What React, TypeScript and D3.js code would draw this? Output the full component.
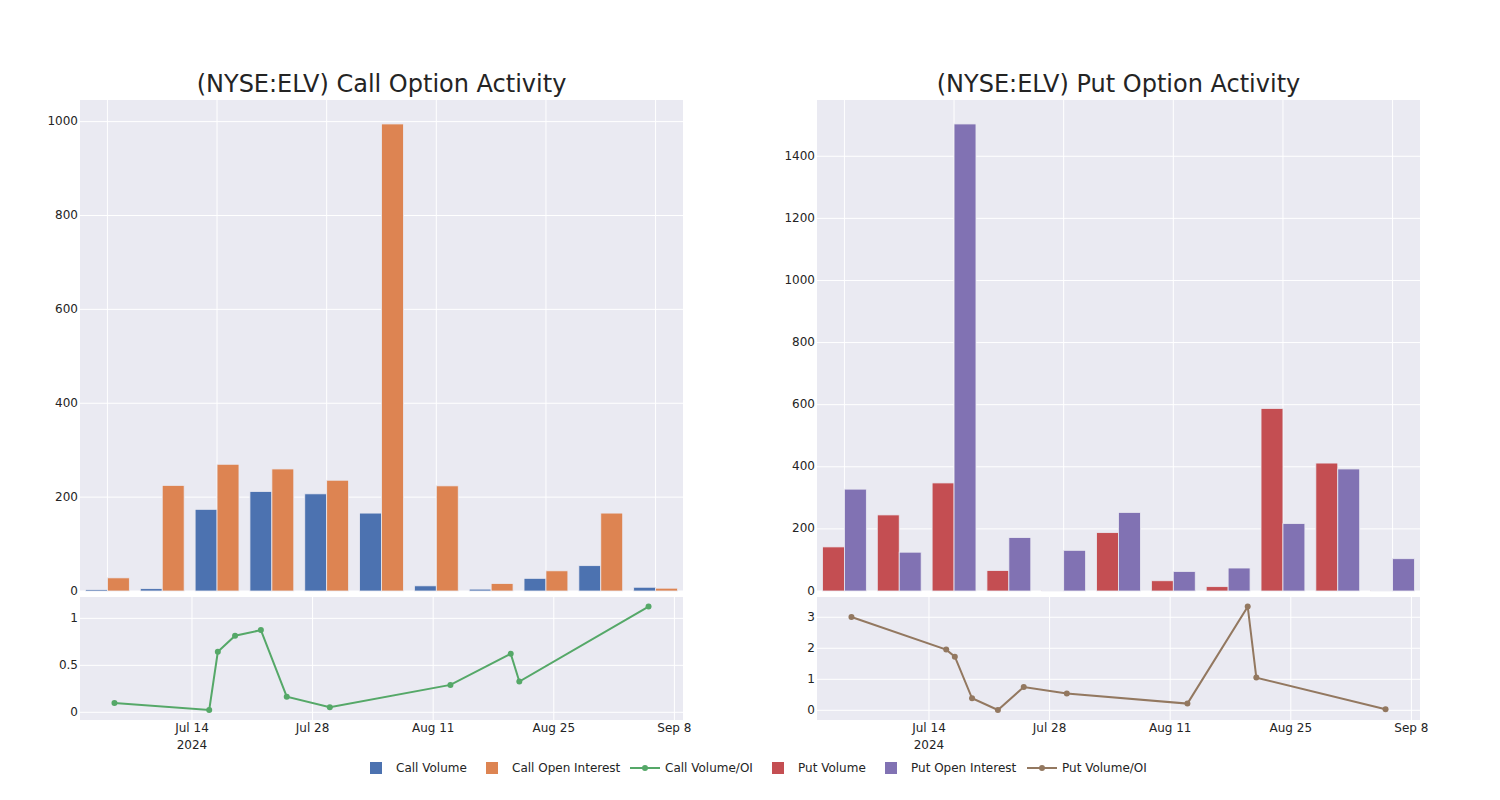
import React from "react";
import * as d3 from "d3";

const categories = ["2024-07-05", "2024-07-16", "2024-07-17", "2024-07-19", "2024-07-22", "2024-07-25", "2024-07-30", "2024-08-13", "2024-08-20", "2024-08-21", "2024-09-05"];
const ratioDates = ["2024-07-05", "2024-07-16", "2024-07-17", "2024-07-19", "2024-07-22", "2024-07-25", "2024-07-30", "2024-08-13", "2024-08-20", "2024-08-21", "2024-09-05"];

const callVolume = [3, 5, 174, 212, 207, 166, 11, 4, 27, 54, 8];
const callOI = [28, 225, 270, 260, 236, 995, 224, 16, 43, 166, 6];
const callRatio = [0.1, 0.025, 0.644, 0.815, 0.875, 0.167, 0.053, 0.292, 0.623, 0.327, 1.125];

const putVolume = [142, 245, 348, 66, 2, 188, 33, 14, 588, 412, 2];
const putOI = [328, 125, 1504, 172, 131, 253, 63, 74, 217, 393, 104];
const putRatio = [3.01, 1.957, 1.73, 0.387, 0.01, 0.753, 0.538, 0.215, 3.344, 1.054, 0.032];

const callTopTicks = [0, 200, 400, 600, 800, 1000];
const callBottomTicks = [0, 0.5, 1];
const putTopTicks = [0, 200, 400, 600, 800, 1000, 1200, 1400];
const putBottomTicks = [0, 1, 2, 3];
const dateTicks = ["2024-07-14", "2024-07-28", "2024-08-11", "2024-08-25", "2024-09-08"];

const COLORS = {
  callVol: "#4c72b0",
  callOI: "#dd8452",
  callRatio: "#55a868",
  putVol: "#c44e52",
  putOI: "#8172b3",
  putRatio: "#937860",
};
const BG = "#eaeaf2";
const TEXT = "rgb(36,36,36)";
const FONT = "'DejaVu Sans', Verdana, sans-serif";

const parse = d3.utcParse("%Y-%m-%d");
const fmtTick = d3.utcFormat("%b %-d");

type PanelProps = {
  x0: number;
  x1: number;
  title: string;
  vol: number[];
  oi: number[];
  ratio: number[];
  volColor: string;
  oiColor: string;
  ratioColor: string;
  topTicks: number[];
  bottomTicks: number[];
};

function Panel(p: PanelProps) {
  const topY0 = 100, topY1 = 591;
  const botY0 = 597, botY1 = 720;
  const maxBar = d3.max([...p.vol, ...p.oi]) as number;
  const yTop = d3.scaleLinear().domain([0, maxBar * 1.0513]).range([topY1, topY0]);
  const xBand = d3.scaleBand().domain(categories).range([p.x0, p.x1]).paddingInner(0.2).paddingOuter(0.1);
  const xCat = d3.scaleBand().domain(categories).range([p.x0, p.x1]);
  const xSub = d3.scaleBand().domain(["vol", "oi"]).range([0, xBand.bandwidth()]);

  const rMin = d3.min(p.ratio) as number;
  const rMax = d3.max(p.ratio) as number;
  const span = rMax - rMin;
  const yBot = d3.scaleLinear().domain([rMin - 0.097 * span, rMax + 0.093 * span]).range([botY1, botY0]);
  const xTime = d3.scaleUtc()
    .domain([parse("2024-07-01") as Date, parse("2024-09-09") as Date])
    .range([p.x0, p.x1]);

  const line = d3.line<number>()
    .x((_, i) => xTime(parse(ratioDates[i]) as Date))
    .y((d) => yBot(d));

  const gridCats = categories.filter((_, i) => i % 2 === 0);

  return (
    <g>
      <text x={(p.x0 + p.x1) / 2} y={92} textAnchor="middle" fontSize={24} fill={TEXT} fontFamily={FONT}>
        {p.title}
      </text>
      {/* top panel */}
      <rect x={p.x0} y={topY0} width={p.x1 - p.x0} height={topY1 - topY0} fill={BG} />
      {gridCats.map((c) => (
        <line key={c} x1={(xCat(c) as number) + xCat.bandwidth() / 2} x2={(xCat(c) as number) + xCat.bandwidth() / 2} y1={topY0} y2={topY1} stroke="white" strokeWidth={1} />
      ))}
      {p.topTicks.map((t) => (
        <g key={t}>
          <line x1={p.x0} x2={p.x1} y1={yTop(t)} y2={yTop(t)} stroke="white" strokeWidth={1} />
          <text x={p.x0 - 2} y={yTop(t)} textAnchor="end" dominantBaseline="middle" fontSize={12} fill={TEXT} fontFamily={FONT}>
            {t}
          </text>
        </g>
      ))}
      {categories.map((c, i) => (
        <g key={c}>
          <rect x={(xBand(c) as number) + (xSub("vol") as number)} y={yTop(p.vol[i])} width={xSub.bandwidth()} height={topY1 - yTop(p.vol[i])} fill={p.volColor} stroke={BG} strokeWidth={0.8} />
          <rect x={(xBand(c) as number) + (xSub("oi") as number)} y={yTop(p.oi[i])} width={xSub.bandwidth()} height={topY1 - yTop(p.oi[i])} fill={p.oiColor} stroke={BG} strokeWidth={0.8} />
        </g>
      ))}
      {/* bottom panel */}
      <rect x={p.x0} y={botY0} width={p.x1 - p.x0} height={botY1 - botY0} fill={BG} />
      {dateTicks.map((d) => {
        const dt = parse(d) as Date;
        const x = xTime(dt);
        return (
          <g key={d}>
            <line x1={x} x2={x} y1={botY0} y2={botY1} stroke="white" strokeWidth={1} />
            <text x={x} y={732} textAnchor="middle" fontSize={12} fill={TEXT} fontFamily={FONT}>
              {fmtTick(dt)}
            </text>
            {d === "2024-07-14" && (
              <text x={x} y={749} textAnchor="middle" fontSize={12} fill={TEXT} fontFamily={FONT}>
                2024
              </text>
            )}
          </g>
        );
      })}
      {p.bottomTicks.map((t) => (
        <g key={t}>
          <line x1={p.x0} x2={p.x1} y1={yBot(t)} y2={yBot(t)} stroke="white" strokeWidth={1} />
          <text x={p.x0 - 2} y={yBot(t)} textAnchor="end" dominantBaseline="middle" fontSize={12} fill={TEXT} fontFamily={FONT}>
            {t}
          </text>
        </g>
      ))}
      <path d={line(p.ratio) as string} fill="none" stroke={p.ratioColor} strokeWidth={2} />
      {p.ratio.map((v, i) => (
        <circle key={i} cx={xTime(parse(ratioDates[i]) as Date)} cy={yBot(v)} r={3} fill={p.ratioColor} />
      ))}
    </g>
  );
}

const legendItems = [
  { label: "Call Volume", color: COLORS.callVol, kind: "bar", x: 370 },
  { label: "Call Open Interest", color: COLORS.callOI, kind: "bar", x: 486 },
  { label: "Call Volume/OI", color: COLORS.callRatio, kind: "line", x: 630 },
  { label: "Put Volume", color: COLORS.putVol, kind: "bar", x: 772 },
  { label: "Put Open Interest", color: COLORS.putOI, kind: "bar", x: 885 },
  { label: "Put Volume/OI", color: COLORS.putRatio, kind: "line", x: 1027 },
];

export default function App() {
  return (
    <svg width={1500} height={800} style={{ position: "absolute", left: 0, top: 0, background: "white" }}>
      <Panel
        x0={80}
        x1={683}
        title="(NYSE:ELV) Call Option Activity"
        vol={callVolume}
        oi={callOI}
        ratio={callRatio}
        volColor={COLORS.callVol}
        oiColor={COLORS.callOI}
        ratioColor={COLORS.callRatio}
        topTicks={callTopTicks}
        bottomTicks={callBottomTicks}
      />
      <Panel
        x0={817}
        x1={1420}
        title="(NYSE:ELV) Put Option Activity"
        vol={putVolume}
        oi={putOI}
        ratio={putRatio}
        volColor={COLORS.putVol}
        oiColor={COLORS.putOI}
        ratioColor={COLORS.putRatio}
        topTicks={putTopTicks}
        bottomTicks={putBottomTicks}
      />
      <g fontFamily={FONT} fontSize={12} fill={TEXT}>
        {legendItems.map((it) => (
          <g key={it.label}>
            {it.kind === "bar" ? (
              <rect x={it.x} y={762} width={12} height={12} fill={it.color} />
            ) : (
              <g>
                <line x1={it.x} x2={it.x + 30} y1={768} y2={768} stroke={it.color} strokeWidth={2} />
                <circle cx={it.x + 15} cy={768} r={3} fill={it.color} />
              </g>
            )}
            <text x={it.kind === "bar" ? it.x + 26 : it.x + 35} y={768} dominantBaseline="middle" fill={TEXT}>
              {it.label}
            </text>
          </g>
        ))}
      </g>
    </svg>
  );
}
